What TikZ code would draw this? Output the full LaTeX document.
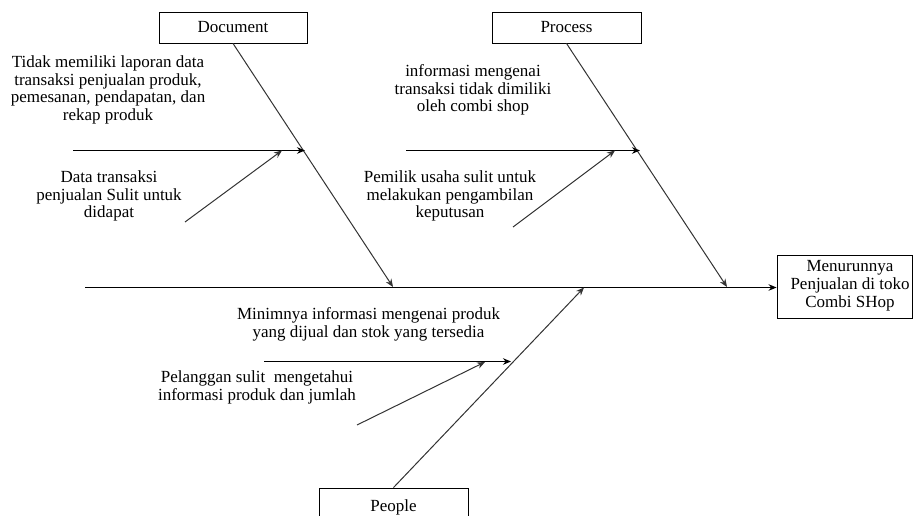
\documentclass[tikz,border=0pt]{standalone}
\usepackage{fontspec}
\setmainfont{Liberation Serif}
\usetikzlibrary{arrows.meta}
\begin{document}
\begin{tikzpicture}[x=1pt,y=-1pt,
  every node/.style={font=\fontsize{17}{17.8}\selectfont, inner sep=0pt},
  catbox/.style={draw, line width=0.9pt, minimum width=148pt, minimum height=31pt},
  effectbox/.style={draw, line width=0.9pt, minimum width=135pt, minimum height=63pt},
  cause/.style={align=center},
  spine/.style={line width=1pt, -{Stealth[length=8pt,width=6.5pt]}},
  bone/.style={line width=1pt, black!80, -{Stealth[length=8pt,width=6.5pt]}},
  twig/.style={line width=1pt, -{Stealth[length=8pt,width=6.5pt]}}]
\useasboundingbox (0,0) rectangle (913,516);

% categories and effect
\node[catbox] (doc) at (233,27.5) {Document};
\node[catbox, minimum width=149pt] (proc) at (566.5,27.5) {Process};
\node[catbox, minimum width=149pt, minimum height=38pt] (people) at (393.5,507) {People};
\node[effectbox] (effect) at (844.5,286.5) {};
\node[cause] (effecttxt) at (850,286) {Menurunnya\\Penjualan di toko\\Combi SHop};

% spine and main bones
\coordinate (spinestart) at (85,287.5);
\coordinate (doctip) at (393,287);
\coordinate (proctip) at (727,287);
\coordinate (peopletip) at (584,287.5);
\draw[spine] (spinestart) -- (effect.west |- spinestart);
\draw[bone] (doc.south) -- (doctip);
\draw[bone] (proc.south) -- (proctip);
\draw[bone] (people.north) -- (peopletip);

% Document causes
\node[cause] (c1) at (108,90) {Tidak memiliki laporan data\\transaksi penjualan produk,\\pemesanan, pendapatan, dan\\rekap produk};
\node[cause] (c2) at (109,196) {Data transaksi\\penjualan Sulit untuk\\didapat};
\coordinate (c1s) at (73,150.5);
\coordinate (c1e) at (305,150.5);
\coordinate (c2s) at (185,222);
\coordinate (c2e) at (282,150.5);
\draw[twig] (c1s) -- (c1e);
\draw[bone] (c2s) -- (c2e);

% Process causes
\node[cause] (c3) at (473,90) {informasi mengenai\\transaksi tidak dimiliki\\oleh combi shop};
\node[cause] (c4) at (450,196) {Pemilik usaha sulit untuk\\melakukan pengambilan\\keputusan};
\coordinate (c3s) at (406,150.5);
\coordinate (c3e) at (640,150.5);
\coordinate (c4s) at (513,227);
\coordinate (c4e) at (615,150.5);
\draw[twig] (c3s) -- (c3e);
\draw[bone] (c4s) -- (c4e);

% People causes
\node[cause] (c5) at (368.5,324.5) {Minimnya informasi mengenai produk\\yang dijual dan stok yang tersedia};
\node[cause] (c6) at (257,387.5) {Pelanggan sulit\ \ mengetahui\\informasi produk dan jumlah};
\coordinate (c5s) at (264,361.5);
\coordinate (c5e) at (511,361.5);
\coordinate (c6s) at (357,425);
\coordinate (c6e) at (485,362);
\draw[twig] (c5s) -- (c5e);
\draw[bone] (c6s) -- (c6e);
\end{tikzpicture}
\end{document}
